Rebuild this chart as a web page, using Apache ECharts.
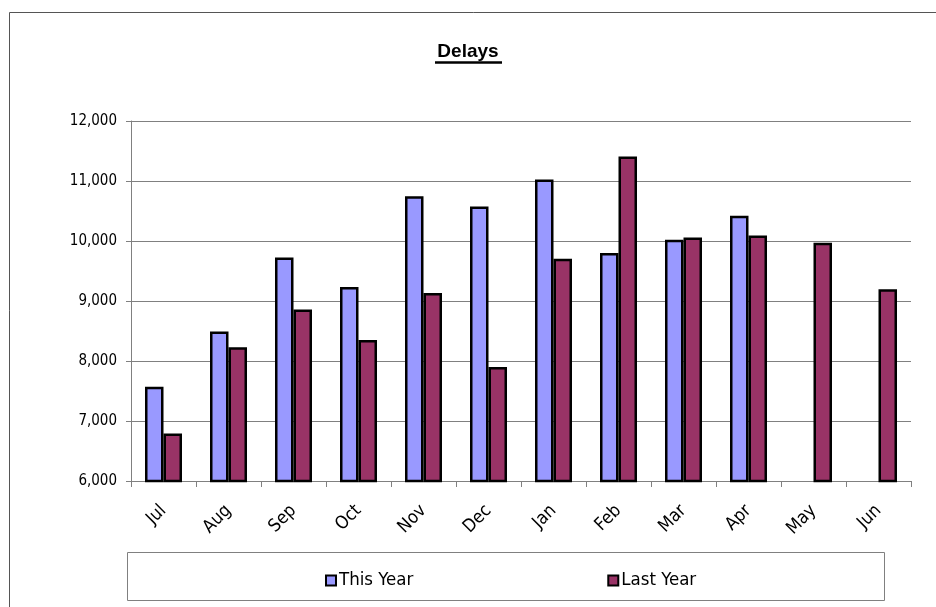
<!DOCTYPE html>
<html>
<head>
<meta charset="utf-8">
<script src="https://cdn.jsdelivr.net/npm/echarts@6/dist/echarts.min.js"></script>
<style>
html,body{margin:0;padding:0;background:#fff;}
#chart{width:936px;height:607px;}
</style>
</head>
<body>
<div id="chart"></div>
<script>
const categories = ['Jul','Aug','Sep','Oct','Nov','Dec','Jan','Feb','Mar','Apr','May','Jun'];
const thisYear = [7570, 8490, 9725, 9235, 10745, 10575, 11025, 9800, 10020, 10420, 0, 0];
const lastYear = [6790, 8230, 8860, 8350, 9135, 7900, 9705, 11410, 10060, 10090, 9970, 9195];
const yTicks = {min: 6000, max: 12000, interval: 1000};
const titleText = 'Delays';
const seriesNames = ['This Year', 'Last Year'];

const font = 'DejaVu Sans Condensed, Noto Sans, sans-serif';
const chart = echarts.init(document.getElementById('chart'), null, {renderer: 'canvas'});
chart.setOption({
  backgroundColor: '#ffffff',
  animation: false,
  title: {
    text: titleText,
    left: 'center',
    top: 37,
    textStyle: {fontFamily: 'Liberation Sans, Arial, sans-serif', fontWeight: 'bold', fontSize: 19, color: '#000'}
  },
  graphic: [
    {type: 'rect', shape: {x: 9.5, y: 12.5, width: 940, height: 610}, style: {fill: 'none', stroke: '#555', lineWidth: 1}, silent: true, z: -1},
    {type: 'line', shape: {x1: 435, y1: 62.5, x2: 502, y2: 62.5}, style: {stroke: '#000', lineWidth: 2.5}, silent: true},
    {type: 'rect', shape: {x: 127.5, y: 552.5, width: 757, height: 48}, style: {fill: 'none', stroke: '#808080', lineWidth: 1}, silent: true}
  ],
  legend: {
    data: seriesNames,
    left: 320,
    top: 566,
    icon: 'rect',
    itemWidth: 10,
    itemHeight: 10,
    itemGap: 194,
    itemStyle: {borderColor: '#000', borderWidth: 2},
    textStyle: {fontFamily: font, fontSize: 18.5, color: '#000', padding: [0, 0, 0, -2]}
  },
  grid: {left: 131, right: 25, top: 121, bottom: 126, containLabel: false},
  xAxis: {
    type: 'category',
    data: categories,
    boundaryGap: true,
    axisLine: {lineStyle: {color: '#808080', width: 1}},
    axisTick: {show: true, length: 6, inside: false, alignWithLabel: false, lineStyle: {color: '#808080'}},
    axisLabel: {rotate: 45, margin: 27, fontFamily: font, fontSize: 18, color: '#000', interval: 0},
    splitLine: {show: false}
  },
  yAxis: {
    type: 'value',
    min: yTicks.min,
    max: yTicks.max,
    interval: yTicks.interval,
    axisLine: {show: true, lineStyle: {color: '#808080', width: 1}},
    axisTick: {show: true, length: 5, lineStyle: {color: '#808080'}},
    axisLabel: {
      margin: 14, fontFamily: font, fontSize: 15, color: '#000',
      formatter: v => v.toLocaleString('en-US')
    },
    splitLine: {show: true, lineStyle: {color: '#808080', width: 1}}
  },
  series: [
    {
      name: seriesNames[0], type: 'bar', data: thisYear,
      barWidth: 18.5, barGap: '0%',
      itemStyle: {color: '#9999FF', borderColor: '#000', borderWidth: 2.5}
    },
    {
      name: seriesNames[1], type: 'bar', data: lastYear,
      barWidth: 18.5, barGap: '0%',
      itemStyle: {color: '#993366', borderColor: '#000', borderWidth: 2.5}
    }
  ]
});
</script>
</body>
</html>
